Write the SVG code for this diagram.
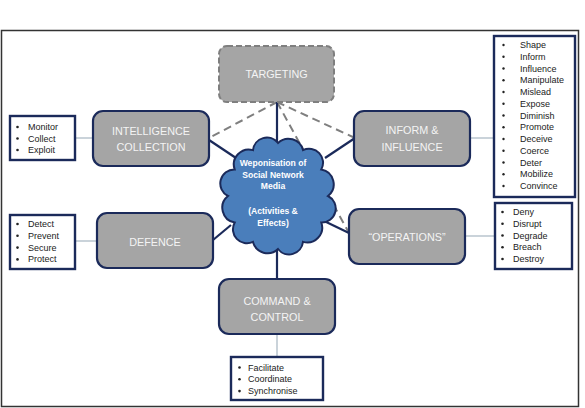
<svg xmlns="http://www.w3.org/2000/svg" width="585" height="408" viewBox="0 0 585 408">
<style>
.box{fill:#a5a5a5;stroke:#1b2a5a;stroke-width:2.2}
.lbl{font-family:"Liberation Sans",Arial,sans-serif;font-size:10.8px;fill:#f4f4f4;text-anchor:middle}
.list{fill:#fff;stroke:#1b2a5a;stroke-width:2.4}
.it{font-family:"Liberation Sans",Arial,sans-serif;font-size:9px;fill:#222}
.dot{fill:#222}
.solid{stroke:#1b2a5a;stroke-width:2.2;fill:none}
.dash{stroke:#7f7f7f;stroke-width:2;stroke-dasharray:8 5;fill:none}
.thin{stroke:#a7b6c2;stroke-width:1.2;fill:none}
.ct{font-family:"Liberation Sans",Arial,sans-serif;font-size:8.6px;font-weight:bold;fill:#fff;text-anchor:middle}
</style>
<rect width="585" height="408" fill="#fff"/>
<rect x="1.5" y="30.5" width="577" height="376" fill="none" stroke="#333" stroke-width="1.5"/>
<g id="connectors">
<line class="dash" x1="277" y1="102" x2="349" y2="233"/>
<line class="dash" x1="277" y1="102" x2="209" y2="138"/>
<line class="dash" x1="277" y1="102" x2="355" y2="138"/>
<line class="solid" x1="277" y1="102" x2="277" y2="146"/>
<line class="solid" x1="209" y1="140" x2="236" y2="158"/>
<line class="solid" x1="355" y1="138" x2="325" y2="158"/>
<line class="solid" x1="213" y1="240" x2="231" y2="225"/>
<line class="solid" x1="320" y1="219" x2="349" y2="233"/>
<line class="solid" x1="277" y1="250" x2="277" y2="279"/>
<line class="thin" x1="75" y1="138" x2="93" y2="138"/>
<line class="thin" x1="470" y1="138" x2="494" y2="138"/>
<line class="thin" x1="75" y1="241" x2="97" y2="241"/>
<line class="thin" x1="465" y1="236" x2="495" y2="236"/>
<line class="thin" x1="277" y1="334" x2="277" y2="357"/>
</g>
<g id="cloud">
<path d="M278,143 A15,15 0 0 1 303,150.1 A14,14 0 0 1 321.3,169.5 A15,15 0 0 1 328,196 A14,14 0 0 1 321.3,222.5 A15,15 0 0 1 303,241.9 A14,14 0 0 1 278,249 A15,15 0 0 1 253,241.9 A14,14 0 0 1 234.7,222.5 A15,15 0 0 1 228,196 A14,14 0 0 1 234.7,169.5 A15,15 0 0 1 253,150.1 A14,14 0 0 1 278,143 Z" fill="#4a7ebb" stroke="#1b2a5a" stroke-width="2"/>
<text class="ct" x="273" y="166">Weponisation of</text>
<text class="ct" x="273" y="177.5">Social Network</text>
<text class="ct" x="273" y="189">Media</text>
<text class="ct" x="273" y="214">(Activities &amp;</text>
<text class="ct" x="273" y="225.5">Effects)</text>
</g>
<g id="targeting">
<rect x="219" y="46" width="115" height="56" rx="8" fill="#a5a5a5" stroke="#7f7f7f" stroke-width="2" stroke-dasharray="6 3"/>
<text class="lbl" x="276.5" y="78">TARGETING</text>
</g>
<g id="intelligence">
<rect class="box" x="93" y="111" width="116" height="55" rx="10"/>
<text class="lbl" x="151" y="135">INTELLIGENCE</text>
<text class="lbl" x="151" y="151">COLLECTION</text>
</g>
<g id="inform">
<rect class="box" x="354" y="111" width="116" height="55" rx="10"/>
<text class="lbl" x="412" y="134">INFORM &amp;</text>
<text class="lbl" x="412" y="151">INFLUENCE</text>
</g>
<g id="defence">
<rect class="box" x="97" y="213" width="116" height="55" rx="10"/>
<text class="lbl" x="155" y="246">DEFENCE</text>
</g>
<g id="operations">
<rect class="box" x="349" y="209" width="116" height="55" rx="10"/>
<text class="lbl" x="407" y="241">“OPERATIONS”</text>
</g>
<g id="command">
<rect class="box" x="219" y="279" width="116" height="55" rx="10"/>
<text class="lbl" x="277" y="305">COMMAND &amp;</text>
<text class="lbl" x="277" y="321">CONTROL</text>
</g>
<g id="list-intel">
<rect class="list" x="10" y="116" width="65" height="44"/>
<circle class="dot" cx="17.5" cy="127" r="1.3"/><text class="it" x="28" y="130">Monitor</text>
<circle class="dot" cx="17.5" cy="138.5" r="1.3"/><text class="it" x="28" y="141.5">Collect</text>
<circle class="dot" cx="17.5" cy="150" r="1.3"/><text class="it" x="28" y="153">Exploit</text>
</g>
<g id="list-inform">
<rect class="list" x="494" y="36" width="81" height="161"/>
<circle class="dot" cx="503.5" cy="45" r="1.2"/><text class="it" x="520" y="48">Shape</text>
<circle class="dot" cx="503.5" cy="56.75" r="1.2"/><text class="it" x="520" y="59.75">Inform</text>
<circle class="dot" cx="503.5" cy="68.5" r="1.2"/><text class="it" x="520" y="71.5">Influence</text>
<circle class="dot" cx="503.5" cy="80.25" r="1.2"/><text class="it" x="520" y="83.25">Manipulate</text>
<circle class="dot" cx="503.5" cy="92" r="1.2"/><text class="it" x="520" y="95">Mislead</text>
<circle class="dot" cx="503.5" cy="103.75" r="1.2"/><text class="it" x="520" y="106.75">Expose</text>
<circle class="dot" cx="503.5" cy="115.5" r="1.2"/><text class="it" x="520" y="118.5">Diminish</text>
<circle class="dot" cx="503.5" cy="127.25" r="1.2"/><text class="it" x="520" y="130.25">Promote</text>
<circle class="dot" cx="503.5" cy="139" r="1.2"/><text class="it" x="520" y="142">Deceive</text>
<circle class="dot" cx="503.5" cy="150.75" r="1.2"/><text class="it" x="520" y="153.75">Coerce</text>
<circle class="dot" cx="503.5" cy="162.5" r="1.2"/><text class="it" x="520" y="165.5">Deter</text>
<circle class="dot" cx="503.5" cy="174.25" r="1.2"/><text class="it" x="520" y="177.25">Mobilize</text>
<circle class="dot" cx="503.5" cy="186" r="1.2"/><text class="it" x="520" y="189">Convince</text>
</g>
<g id="list-defence">
<rect class="list" x="10" y="215" width="65" height="54"/>
<circle class="dot" cx="17.5" cy="224" r="1.3"/><text class="it" x="28" y="227">Detect</text>
<circle class="dot" cx="17.5" cy="235.8" r="1.3"/><text class="it" x="28" y="238.8">Prevent</text>
<circle class="dot" cx="17.5" cy="247.6" r="1.3"/><text class="it" x="28" y="250.6">Secure</text>
<circle class="dot" cx="17.5" cy="259.4" r="1.3"/><text class="it" x="28" y="262.4">Protect</text>
</g>
<g id="list-operations">
<rect class="list" x="495" y="203" width="77" height="66"/>
<circle class="dot" cx="502.5" cy="212" r="1.3"/><text class="it" x="513" y="215">Deny</text>
<circle class="dot" cx="502.5" cy="223.75" r="1.3"/><text class="it" x="513" y="226.75">Disrupt</text>
<circle class="dot" cx="502.5" cy="235.5" r="1.3"/><text class="it" x="513" y="238.5">Degrade</text>
<circle class="dot" cx="502.5" cy="247.25" r="1.3"/><text class="it" x="513" y="250.25">Breach</text>
<circle class="dot" cx="502.5" cy="259" r="1.3"/><text class="it" x="513" y="262">Destroy</text>
</g>
<g id="list-command">
<rect class="list" x="231" y="357" width="92" height="43"/>
<circle class="dot" cx="239.5" cy="367.5" r="1.3"/><text class="it" x="248" y="370.5">Facilitate</text>
<circle class="dot" cx="239.5" cy="379.3" r="1.3"/><text class="it" x="248" y="382.3">Coordinate</text>
<circle class="dot" cx="239.5" cy="391.1" r="1.3"/><text class="it" x="248" y="394.1">Synchronise</text>
</g>
</svg>
